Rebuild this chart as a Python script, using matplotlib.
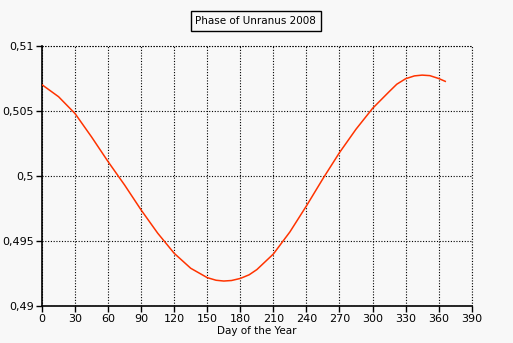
import matplotlib
matplotlib.use('Agg')
import matplotlib.pyplot as plt
from matplotlib.ticker import FuncFormatter

# Phase of Uranus through 2008
days = [0, 15, 30, 45, 60, 75, 90, 105, 120, 135, 150, 158, 165, 172, 180, 188,
        195, 210, 225, 240, 255, 270, 285, 300, 315, 322, 330, 338, 345, 352,
        360, 366]
phase = [0.50702, 0.5061, 0.5048, 0.5030, 0.5011, 0.4993, 0.49738, 0.4956,
         0.49405, 0.4929, 0.49218, 0.49198, 0.49192, 0.49196, 0.49212, 0.49240,
         0.4928, 0.4940, 0.4957, 0.4977, 0.4998, 0.5018, 0.5036, 0.5052,
         0.50648, 0.50706, 0.50748, 0.50770, 0.50776, 0.50772, 0.50750, 0.50728]

xticks = list(range(0, 391, 30))
yticks = [0.49, 0.495, 0.5, 0.505, 0.51]

bg = '#f8f8f8'
dots = (0, (1, 1.5))
plt.rcParams['font.family'] = 'DejaVu Sans'
fig = plt.figure(figsize=(5.13, 3.43), dpi=100, facecolor=bg)
ax = fig.add_axes([0.0819, 0.1079, 0.8376, 0.758], facecolor=bg)

ax.plot(days, phase, color='#ff3300', linewidth=1.1, zorder=3)

ax.set_xlim(0, 390)
ax.set_ylim(0.49, 0.51)
ax.set_xticks(xticks)
ax.set_yticks(yticks)
ax.yaxis.set_major_formatter(FuncFormatter(lambda v, p: ('%g' % round(v, 4)).replace('.', ',')))
ax.grid(True, color='black', linestyle=dots, linewidth=0.8)
ax.tick_params(labelsize=8, length=4, width=1, direction='out', pad=2)

ax.spines['top'].set_visible(False)
ax.spines['right'].set_visible(False)
ax.spines['left'].set_linewidth(1.2)
ax.spines['bottom'].set_linewidth(1.2)
# dotted frame on top/right like the original
ax.axhline(0.51, color='black', linestyle=dots, linewidth=0.8, clip_on=False)
ax.axvline(390, color='black', linestyle=dots, linewidth=0.8, clip_on=False)

ax.set_xlabel('Day of the Year', fontsize=7.5, labelpad=1)

fig.text(0.4986, 0.9388, 'Phase of Unranus 2008', fontsize=7.5, ha='center', va='center',
         bbox=dict(boxstyle='square,pad=0.45', facecolor=bg, edgecolor='black', linewidth=1))

plt.savefig('out.png', dpi=100, facecolor=bg)
